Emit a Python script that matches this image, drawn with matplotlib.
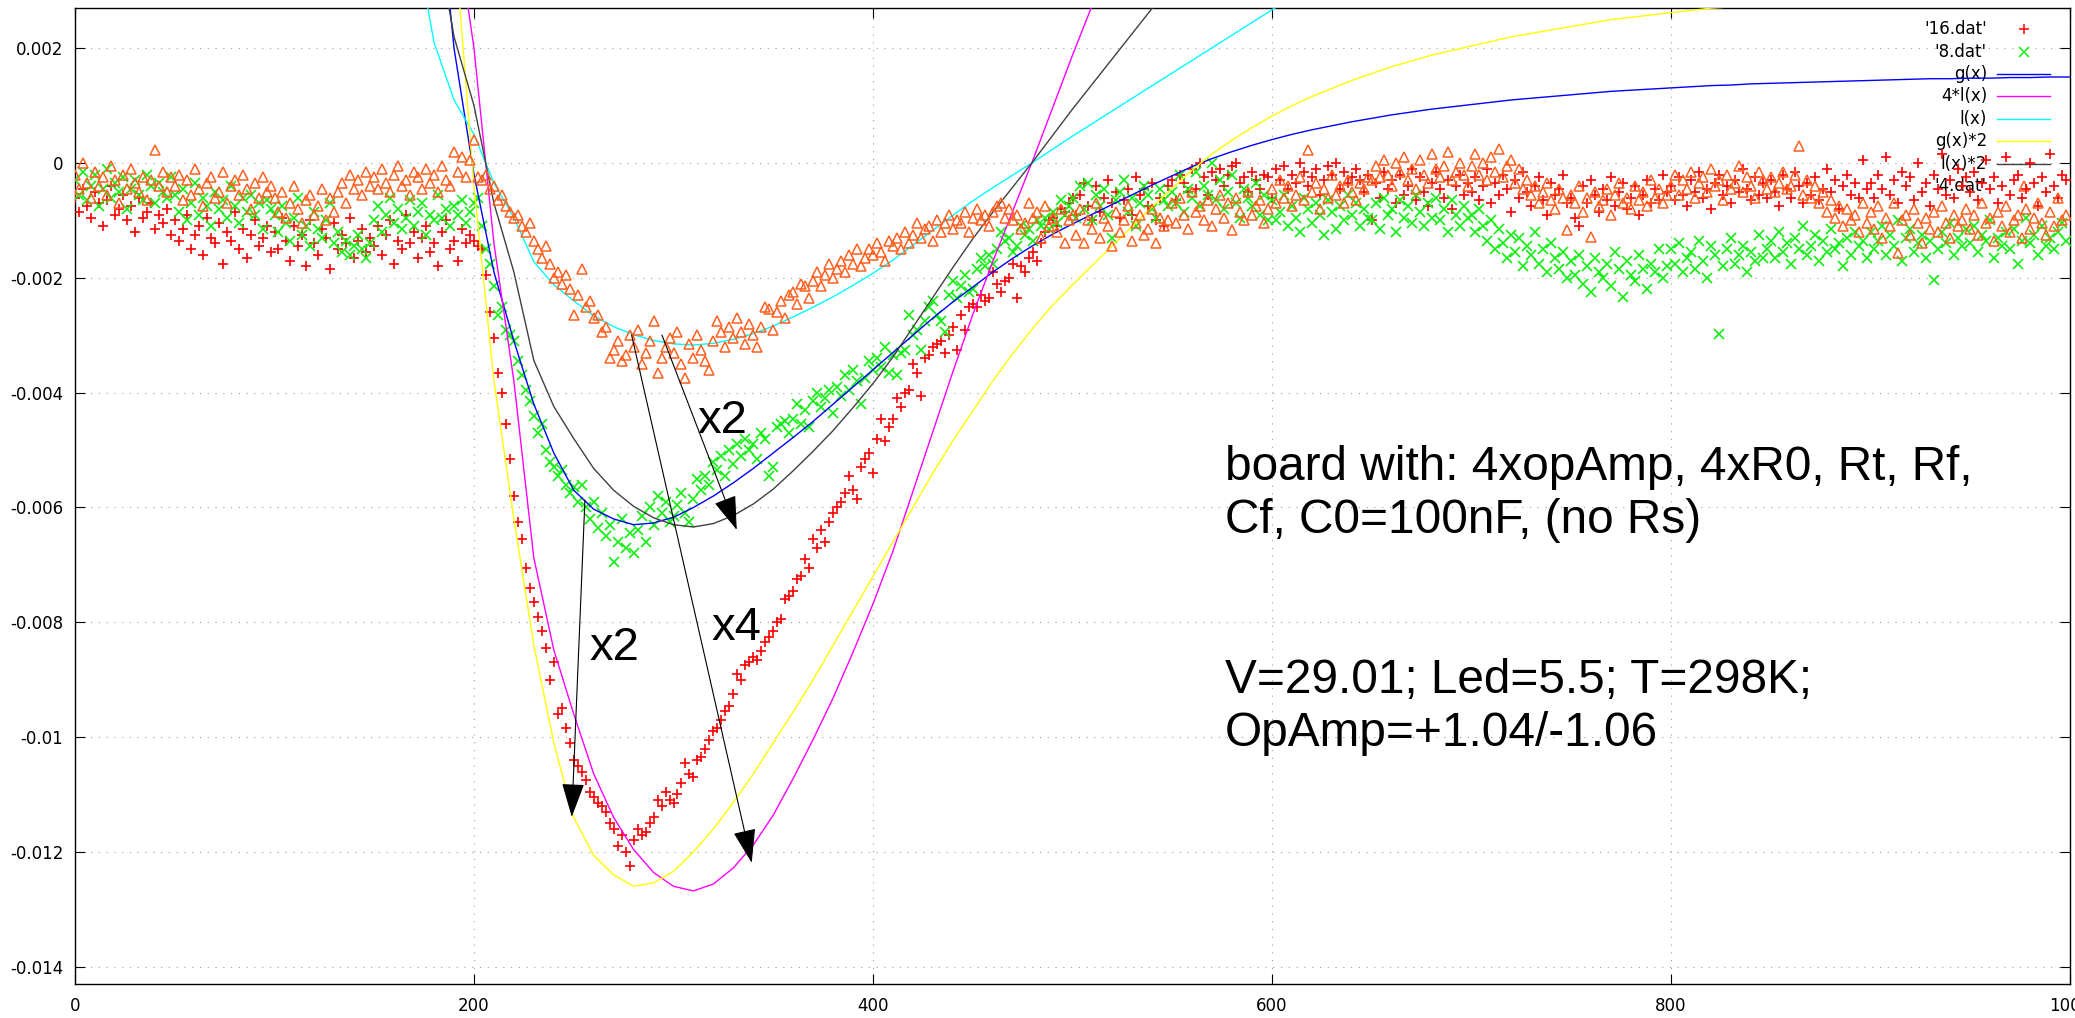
import numpy as np
import matplotlib
matplotlib.use("Agg")
import matplotlib.pyplot as plt

plt.rcParams['axes.unicode_minus'] = False
plt.rcParams['font.family'] = ['DejaVu Sans']

# Recorded traces, one reading every 2 units of x; values in units of 1e-5
SCALE = 1e-5
x_data = np.arange(0, 1000, 2)

sig16 = [
    -60, -85, -45, -75, -95, -50, -70, -110, -65, -40, -90, -80, -55, -100, -75, -120, -60, -95, -85, -70, -115, -90, -105, -80, -125,
    -100, -135, -115, -90, -150, -125, -110, -160, -95, -130, -140, -105, -175, -120, -135, -85, -150, -115, -165, -125, -100, -145, -130, -110, -155,
    -120, -150, -95, -135, -170, -110, -145, -125, -180, -100, -140, -160, -115, -130, -185, -105, -150, -125, -140, -95, -165, -135, -115, -155, -130,
    -145, -110, -160, -125, -100, -175, -135, -150, -90, -140, -120, -165, -130, -110, -155, -140, -180, -120, -100, -150, -135, -170, -115, -140, -125,
    -135, -145, -150, -195, -260, -305, -365, -400, -455, -515, -580, -625, -655, -705, -740, -765, -790, -815, -845, -900, -870, -960, -950, -985, -1010,
    -1040, -1050, -1060, -1075, -1095, -1105, -1115, -1120, -1130, -1150, -1160, -1190, -1170, -1200, -1225, -1180, -1160, -1170, -1165, -1150, -1140, -1110, -1120, -1095, -1110,
    -1115, -1100, -1080, -1045, -1065, -1070, -1040, -1035, -1020, -1005, -990, -985, -970, -955, -945, -925, -890, -900, -875, -870, -860, -865, -850, -835, -825,
    -815, -800, -795, -760, -755, -745, -725, -720, -690, -705, -655, -670, -640, -660, -625, -610, -600, -590, -575, -545, -570, -585, -530, -515, -505,
    -540, -480, -445, -485, -460, -445, -410, -425, -400, -395, -350, -365, -405, -340, -335, -320, -315, -310, -330, -300, -285, -325, -265, -290, -250,
    -245, -250, -230, -240, -235, -190, -210, -225, -205, -200, -175, -235, -180, -190, -165, -155, -170, -140, -120, -100, -95, -110, -80, -85, -70,
    -60, -90, -55, -35, -75, -100, -40, -85, -60, -30, -70, -50, -95, -65, -45, -90, -25, -55, -45, -75, -35, -100, -60, -110, -40,
    -30, -65, -20, -35, -50, -10, -45, 0, -25, -55, -15, -30, -10, -40, -20, -5, 0, -35, -25, -50, -15, -30, -45, -20, -25,
    -60, -10, -30, -5, -45, -20, -35, 0, -15, -40, -25, -10, -55, -30, -5, -20, 0, -45, -15, -35, -25, -10, -30, -50, -20,
    -99, -35, -60, -15, -45, -30, -70, -20, -55, -40, -10, -65, -25, -50, -75, -35, -15, -45, -60, -30, -80, -40, -20, -55, -35,
    -50, -25, -65, -40, -10, -70, -35, -55, -20, -45, -85, -30, -60, -15, -50, -75, -40, -25, -65, -90, -35, -55, -45, -20, -70,
    -60, -95, -110, -40, -70, -30, -55, -85, -45, -65, -25, -75, -50, -35, -80, -60, -40, -90, -55, -30, -70, -45, -65, -20, -50,
    -40, -65, -25, -55, -75, -30, -50, -15, -60, -45, -80, -35, -20, -55, -40, -70, -30, -50, -10, -45, -65, -25, -55, -35, -60,
    -30, -50, -75, -20, -45, -60, -15, -40, -70, -35, -55, -25, -65, -45, -10, -50, -30, -80, -40, -20, -55, -35, -60, 5, -45,
    -35, -60, -20, -45, 10, -55, -30, -70, -15, -40, -25, -65, 0, -50, -35, -75, -20, -45, 15, -55, -30, -60, -10, -40, -25,
    -50, -15, -65, -35, 5, -45, -25, -70, -40, 10, -55, -30, -20, -60, -45, 0, -35, -75, -25, -50, 15, -40, -60, -20, -30,
]

sig8 = [
    -30, -55, -15, -65, -40, -20, -75, -45, -10, -60, -35, -50, -25, -80, -45, -30, -55, -65, -20, -40, -70, -35, -50, -60, -25,
    -55, -85, -45, -100, -70, -35, -90, -60, -75, -110, -50, -80, -65, -95, -40, -75, -105, -60, -85, -55, -90, -70, -115, -65, -80,
    -90, -120, -75, -105, -135, -95, -60, -125, -110, -145, -85, -115, -130, -100, -70, -140, -120, -155, -135, -160, -145, -125, -150, -165, -140,
    -100, -75, -120, -90, -60, -105, -80, -115, -95, -65, -110, -85, -70, -125, -90, -100, -55, -95, -80, -110, -75, -90, -65, -105, -85,
    -70, -60, -110, -150, -175, -215, -265, -250, -290, -300, -310, -345, -370, -395, -415, -440, -470, -455, -500, -520, -530, -545, -535, -560, -575,
    -565, -590, -560, -600, -620, -590, -635, -610, -650, -630, -695, -660, -620, -670, -645, -680, -640, -615, -660, -600, -630, -580, -610, -590, -625,
    -615, -595, -575, -610, -625, -585, -550, -570, -545, -560, -520, -535, -510, -545, -500, -525, -490, -510, -480, -500, -490, -515, -470, -480, -545,
    -530, -460, -455, -450, -470, -445, -420, -455, -430, -460, -415, -400, -425, -410, -395, -435, -390, -405, -370, -395, -360, -380, -420, -375, -345,
    -360, -340, -355, -320, -365, -335, -370, -330, -325, -265, -300, -290, -325, -275, -250, -240, -265, -275, -295, -230, -205, -235, -215, -195, -225,
    -220, -185, -165, -180, -160, -175, -150, -120, -135, -130, -155, -145, -110, -125, -115, -135, -100, -110, -95, -115, -85, -105, -65, -90, -75,
    -60, -95, -40, -80, -35, -100, -55, -75, -45, -90, -130, -65, -50, -30, -85, -60, -110, -70, -40, -55, -80, -95, -45, -65, -75,
    -50, -70, -20, -85, -45, -60, -15, -75, -40, -55, 0, -65, -30, -80, -50, -20, -70, -95, -45, -60, -75, -35, -90, -55, -100,
    -65, -100, -85, -55, -110, -75, -95, -120, -60, -80, -105, -70, -90, -125, -65, -85, -115, -75, -100, -55, -90, -70, -110, -80, -95,
    -100, -70, -115, -60, -90, -80, -120, -65, -95, -75, -105, -55, -85, -110, -70, -95, -60, -100, -80, -120, -65, -90, -110, -75, -95,
    -90, -120, -80, -110, -135, -100, -150, -115, -140, -165, -125, -155, -130, -180, -145, -160, -120, -175, -150, -190, -140, -165, -185, -155, -200,
    -170, -195, -160, -210, -180, -225, -165, -190, -200, -175, -215, -155, -185, -233, -170, -195, -205, -160, -185, -220, -175, -190, -150, -200, -180,
    -150, -175, -140, -190, -165, -155, -185, -135, -170, -200, -145, -160, -297, -180, -150, -130, -175, -160, -145, -190, -155, -170, -125, -165, -150,
    -135, -165, -120, -155, -140, -175, -130, -150, -110, -160, -145, -125, -170, -135, -155, -115, -150, -140, -180, -130, -160, -120, -145, -135, -165,
    -120, -150, -135, -110, -160, -125, -145, -100, -170, -130, -115, -155, -140, -125, -165, -135, -204, -150, -120, -140, -105, -160, -130, -145, -115,
    -140, -110, -155, -125, -135, -100, -165, -130, -145, -120, -150, -115, -175, -135, -95, -140, -125, -160, -110, -145, -130, -150, -120, -105, -135,
]

sig4 = [
    -20, -45, 0, -35, -60, -15, -40, -25, -55, -5, -30, -70, -20, -45, -10, -35, -50, -25, -65, -30, 23, -40, -15, -50, -25,
    -40, -20, -65, -30, -55, -10, -45, -75, -35, -25, -60, -50, -15, -70, -40, -30, -55, -20, -45, -80, -35, -60, -25, -50, -40,
    -60, -85, -50, -95, -70, -40, -80, -105, -65, -55, -90, -75, -45, -100, -60, -85, -50, -35, -70, -20, -45, -30, -55, -15, -40,
    -25, -45, -10, -35, -50, -20, -5, -40, -30, -55, -15, -25, -45, -10, -35, -20, -50, -5, -30, -40, 20, -15, 10, -25, 5,
    40, -25, -30, -20, -45, -40, -65, -55, -75, -85, -95, -90, -110, -120, -105, -135, -150, -165, -145, -175, -200, -190, -210, -195, -220,
    -265, -230, -185, -250, -240, -270, -265, -295, -285, -340, -325, -310, -345, -335, -300, -320, -290, -350, -330, -310, -275, -365, -340, -320, -305,
    -330, -295, -350, -375, -315, -340, -300, -325, -345, -360, -310, -275, -295, -320, -285, -305, -270, -295, -315, -280, -300, -320, -285, -250, -255,
    -290, -260, -240, -270, -230, -225, -245, -210, -215, -235, -205, -190, -215, -195, -175, -200, -185, -170, -190, -160, -175, -150, -180, -165, -150,
    -160, -140, -155, -170, -135, -145, -130, -150, -120, -140, -125, -105, -130, -115, -110, -135, -100, -120, -105, -90, -115, -100, -105, -85, -120,
    -95, -80, -100, -90, -110, -85, -75, -70, -95, -80, -100, -90, -115, -105, -70, -95, -85, -130, -75, -110, -95, -120, -80, -140, -100,
    -90, -125, -80, -140, -100, -115, -70, -130, -95, -110, -145, -85, -120, -100, -75, -135, -105, -90, -125, -115, -80, -140, -95, -110, -100,
    -70, -105, -60, -90, -115, -50, -85, -75, -100, -65, -110, -80, -55, -95, -70, -117, -60, -85, -100, -50, -90, -75, -65, -105, -80,
    -45, -70, -30, -60, -40, -75, -55, -25, -65, 23, -50, -35, -80, -45, -60, -20, -55, -40, -70, -30, -50, -65, -35, -45, -25,
    -30, -5, -25, 5, -20, -40, 0, -15, 10, -30, -10, -45, 5, -20, -35, 15, -10, -25, -5, 20, -30, -15, 0, -20, -40,
    -5, 15, -20, 0, -30, 10, -15, 25, -25, -5, 5, -35, -10, -45, -30, -55, -40, -70, -50, -35, -65, -80, -45, -60, -116,
    -55, -70, -40, -85, -60, -128, -50, -75, -65, -45, -90, -55, -35, -70, -60, -80, -40, -65, -50, -75, -30, -60, -45, -70, -55,
    -40, -20, -55, -30, -45, -15, -60, -35, -25, -50, -10, -40, -30, -65, -20, -45, -35, -5, -50, -25, -40, -60, -15, -30, -45,
    -25, -50, -35, -15, -45, -40, -20, 29, -55, -30, -60, -40, -70, -50, -85, -65, -95, -75, -110, -80, -100, -90, -120, -70, -105,
    -85, -115, -75, -130, -95, -110, -70, -157, -100, -90, -125, -80, -105, -140, -95, -115, -85, -120, -75, -105, -130, -90, -110, -100, -80,
    -115, -90, -125, -70, -105, -95, -135, -85, -110, -75, -120, -100, -90, -130, -80, -115, -95, -70, -105, -125, -85, -110, -60, -100, -90,
]

# Model curves g(x) and l(x), sampled every 10 units (units of 1e-5)
x_g = np.arange(170, 1001, 10)
g_vals = [1200, 550, 200, -20, -190, -310, -420, -505, -570, -603,
          -620, -630, -627, -617, -600, -580, -557, -532, -505, -478,
          -450, -420, -390, -360, -330, -300, -270, -242, -216, -190,
          -166, -144, -124, -106, -89, -72, -55, -38, -22, -6,
          8, 20, 31, 41, 50, 58, 65, 72, 78, 84,
          89, 94, 98, 102, 106, 110, 113, 116, 119, 122,
          125, 127, 129, 131, 133, 135, 136, 138, 139, 140,
          141, 142, 143, 144, 145, 146, 147, 147, 148, 148,
          149, 149, 150, 150]
x_l = np.arange(170, 621, 10)
l_vals = [400, 210, 110, 50, -35, -95, -172, -212, -240, -266,
          -285, -299, -309, -315, -317, -314, -307, -297, -284, -268,
          -251, -233, -213, -192, -169, -143, -117, -91, -66, -43,
          -21, 1, 24, 47, 69, 91, 113, 135, 157, 179,
          201, 223, 245, 267, 289, 311]

x_ticks = [0, 200, 400, 600, 800, 1000]
y_ticks = [0.002, 0, -0.002, -0.004, -0.006, -0.008, -0.01, -0.012, -0.014]

W, H = 2075, 1018
fig = plt.figure(figsize=(W / 100, H / 100), dpi=100)
L, R, T, B = 75, 2070, 8, 984
ax = fig.add_axes([L / W, 1 - B / H, (R - L) / W, (B - T) / H])
ax.set_xlim(0, 1000)
ax.set_ylim(-0.014302, 0.002702)

s16 = np.array(sig16) * SCALE
s8 = np.array(sig8) * SCALE
s4 = np.array(sig4) * SCALE
g = np.array(g_vals) * SCALE
l = np.array(l_vals) * SCALE

RED, GREEN, ORANGE = '#ff0000', '#10ee10', '#ff5f1f'

ax.plot(x_data, s16, ls='none', marker='+', ms=7.6, mew=1.2, color=RED, zorder=3)
ax.plot(x_data, s8, ls='none', marker='x', ms=6.6, mew=1.2, color=GREEN, zorder=3)
ax.plot(x_g, g, color='#0000ff', lw=1.0, zorder=3)
ax.plot(x_l, 4 * l, color='#ff00ff', lw=1.0, zorder=3)
ax.plot(x_l, l, color='#00ffff', lw=1.0, zorder=3)
ax.plot(x_g, 2 * g, color='#ffff00', lw=1.0, zorder=3)
ax.plot(x_l, 2 * l, color='#404040', lw=1.0, zorder=3)
ax.plot(x_data, s4, ls='none', marker='^', ms=7.6, mew=1.1, mfc='none', color=ORANGE, zorder=3)

# axes, ticks and dotted grid
ax.set_xticks(x_ticks)
ax.set_yticks(y_ticks)
ax.set_yticklabels([f'{v:g}' for v in y_ticks])
ax.grid(True, color='#a0a0a0', lw=0.8, ls=(0, (1, 6)))
ax.set_axisbelow(True)
ax.tick_params(direction='in', length=7, width=0.8, top=True, right=True, labelsize=12)
ax.tick_params(axis='y', pad=8.5)
ax.tick_params(axis='x', pad=9.5)
for sp in ax.spines.values():
    sp.set_linewidth(1.0)

# key in the upper right corner (drawn beneath the data)
key = [("'16.dat'", 'point', '+', RED),
       ("'8.dat'", 'point', 'x', GREEN),
       ('g(x)', 'line', None, '#0000ff'),
       ('4*l(x)', 'line', None, '#ff00ff'),
       ('l(x)', 'line', None, '#00ffff'),
       ('g(x)*2', 'line', None, '#ffff00'),
       ('l(x)*2', 'line', None, '#404040'),
       ("'4.dat'", 'point', '^', ORANGE)]
aw, ah = R - L, B - T
for i, (label, kind, mk, col) in enumerate(key):
    ypix = 29.3 + 22.4 * i
    yf = 1 - (ypix - T) / ah
    ax.text((1987 - L) / aw, yf, label, transform=ax.transAxes, ha='right', va='center',
            fontsize=12, color='black', zorder=1)
    if kind == 'line':
        ax.plot([(1997 - L) / aw, (2050 - L) / aw], [yf, yf], transform=ax.transAxes,
                color=col, lw=1.0, zorder=1)
    else:
        ax.plot([(2024 - L) / aw], [yf], transform=ax.transAxes, ls='none', marker=mk,
                ms=7.2, mew=1.1, color=col, mfc='none', zorder=1)

# arrows relating the traces
arrows = [((294.2, -0.002995), (331.7, -0.00639)),
          ((279.0, -0.002995), (339.2, -0.01219)),
          ((255.6, -0.00587), (249.0, -0.01139))]
for (x0, y0), (x1, y1) in arrows:
    ax.annotate('', xy=(x1, y1), xytext=(x0, y0),
                arrowprops=dict(arrowstyle='-|>,head_length=1.08,head_width=0.36',
                                mutation_scale=20, color='black', lw=0.8,
                                shrinkA=0, shrinkB=0), zorder=6)

lab_font = dict(fontsize=34, family='Liberation Sans', color='black', va='baseline', zorder=6)
ax.text(311.8, -0.0047, 'x2', **lab_font)
ax.text(319.1, -0.00831, 'x4', **lab_font)
ax.text(258.1, -0.00866, 'x2', **lab_font)

notes = [(-0.00552, 'board with: 4xopAmp, 4xR0, Rt, Rf,'),
         (-0.00644, 'Cf, C0=100nF, (no Rs)'),
         (-0.00923, 'V=29.01; Led=5.5; T=298K;'),
         (-0.01015, 'OpAmp=+1.04/-1.06')]
for yv, txt in notes:
    ax.text(576.4, yv, txt, fontsize=34.4, family='Liberation Sans', color='black',
            va='baseline', zorder=6)

fig.savefig('out.png', dpi=100)
